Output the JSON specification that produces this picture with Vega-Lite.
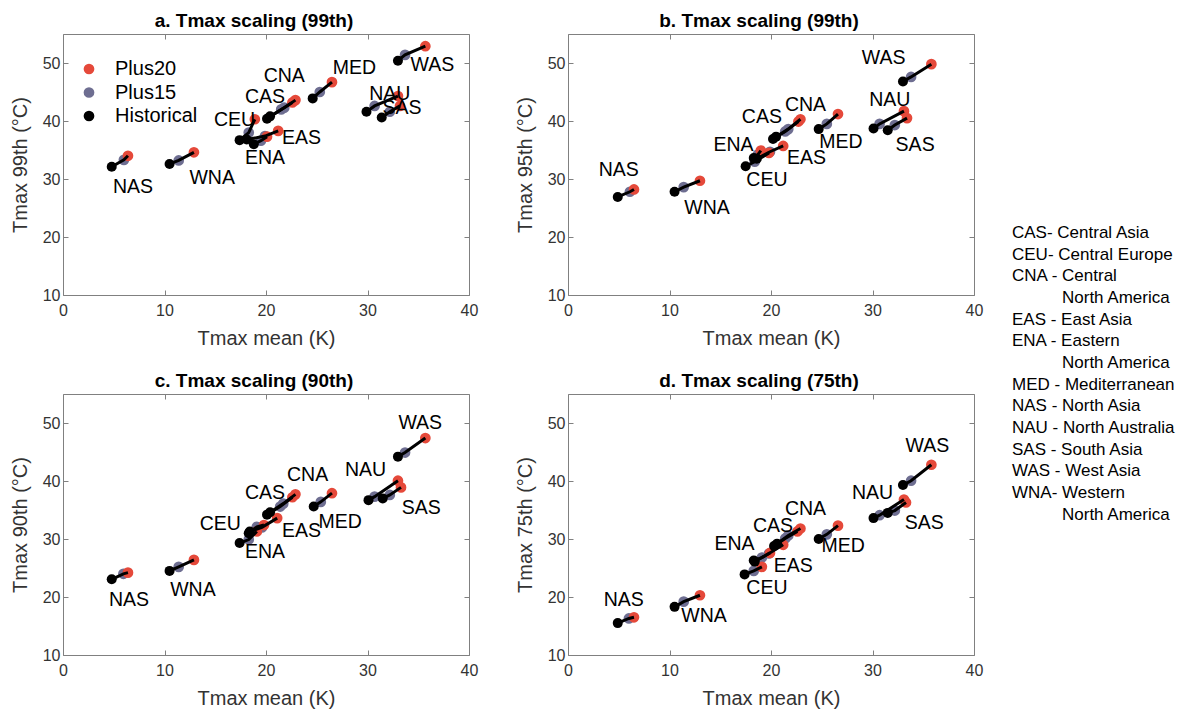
{
"$schema": "https://vega.github.io/schema/vega-lite/v6.json",
"padding": {"left": 9, "top": 11, "right": 0, "bottom": 0},
"background": "white",
"datasets": {
"pts": [
{"panel":"a","region":"NAS","scenario":"Historical","x":4.8,"y":32.1},{"panel":"a","region":"NAS","scenario":"Plus15","x":6.0,"y":33.3},{"panel":"a","region":"NAS","scenario":"Plus20","x":6.4,"y":34.0},
{"panel":"a","region":"WNA","scenario":"Historical","x":10.5,"y":32.6},{"panel":"a","region":"WNA","scenario":"Plus15","x":11.4,"y":33.2},{"panel":"a","region":"WNA","scenario":"Plus20","x":12.9,"y":34.6},
{"panel":"a","region":"CEU","scenario":"Historical","x":17.4,"y":36.7},{"panel":"a","region":"CEU","scenario":"Plus15","x":18.3,"y":38.0},{"panel":"a","region":"CEU","scenario":"Plus20","x":18.9,"y":40.3},
{"panel":"a","region":"ENA","scenario":"Historical","x":18.8,"y":36.0},{"panel":"a","region":"ENA","scenario":"Plus15","x":19.5,"y":36.6},{"panel":"a","region":"ENA","scenario":"Plus20","x":20.1,"y":37.3},
{"panel":"a","region":"EAS","scenario":"Historical","x":18.1,"y":36.8},{"panel":"a","region":"EAS","scenario":"Plus15","x":19.9,"y":37.4},{"panel":"a","region":"EAS","scenario":"Plus20","x":21.2,"y":38.3},
{"panel":"a","region":"CAS","scenario":"Historical","x":20.1,"y":40.4},{"panel":"a","region":"CAS","scenario":"Plus15","x":21.5,"y":42.0},{"panel":"a","region":"CAS","scenario":"Plus20","x":22.6,"y":43.2},
{"panel":"a","region":"CNA","scenario":"Historical","x":20.4,"y":40.8},{"panel":"a","region":"CNA","scenario":"Plus15","x":21.8,"y":42.3},{"panel":"a","region":"CNA","scenario":"Plus20","x":22.9,"y":43.6},
{"panel":"a","region":"MED","scenario":"Historical","x":24.6,"y":43.9},{"panel":"a","region":"MED","scenario":"Plus15","x":25.3,"y":45.0},{"panel":"a","region":"MED","scenario":"Plus20","x":26.5,"y":46.7},
{"panel":"a","region":"NAU","scenario":"Historical","x":29.9,"y":41.6},{"panel":"a","region":"NAU","scenario":"Plus15","x":30.7,"y":42.6},{"panel":"a","region":"NAU","scenario":"Plus20","x":33.0,"y":44.3},
{"panel":"a","region":"SAS","scenario":"Historical","x":31.4,"y":40.6},{"panel":"a","region":"SAS","scenario":"Plus15","x":32.2,"y":41.6},{"panel":"a","region":"SAS","scenario":"Plus20","x":33.2,"y":42.6},
{"panel":"a","region":"WAS","scenario":"Historical","x":33.0,"y":50.4},{"panel":"a","region":"WAS","scenario":"Plus15","x":33.7,"y":51.4},{"panel":"a","region":"WAS","scenario":"Plus20","x":35.7,"y":52.9},

{"panel":"b","region":"NAS","scenario":"Historical","x":4.9,"y":26.9},{"panel":"b","region":"NAS","scenario":"Plus15","x":6.1,"y":27.8},{"panel":"b","region":"NAS","scenario":"Plus20","x":6.5,"y":28.2},
{"panel":"b","region":"WNA","scenario":"Historical","x":10.5,"y":27.8},{"panel":"b","region":"WNA","scenario":"Plus15","x":11.4,"y":28.6},{"panel":"b","region":"WNA","scenario":"Plus20","x":13.0,"y":29.7},
{"panel":"b","region":"CEU","scenario":"Historical","x":17.5,"y":32.2},{"panel":"b","region":"CEU","scenario":"Plus15","x":18.4,"y":33.0},{"panel":"b","region":"CEU","scenario":"Plus20","x":19.8,"y":34.5},
{"panel":"b","region":"ENA","scenario":"Historical","x":18.3,"y":33.6},{"panel":"b","region":"ENA","scenario":"Plus15","x":18.7,"y":34.2},{"panel":"b","region":"ENA","scenario":"Plus20","x":19.0,"y":34.9},
{"panel":"b","region":"EAS","scenario":"Historical","x":18.6,"y":33.5},{"panel":"b","region":"EAS","scenario":"Plus15","x":19.9,"y":34.7},{"panel":"b","region":"EAS","scenario":"Plus20","x":21.2,"y":35.7},
{"panel":"b","region":"CAS","scenario":"Historical","x":20.2,"y":36.9},{"panel":"b","region":"CAS","scenario":"Plus15","x":21.4,"y":38.2},{"panel":"b","region":"CAS","scenario":"Plus20","x":22.7,"y":39.9},
{"panel":"b","region":"CNA","scenario":"Historical","x":20.5,"y":37.3},{"panel":"b","region":"CNA","scenario":"Plus15","x":21.7,"y":38.6},{"panel":"b","region":"CNA","scenario":"Plus20","x":22.9,"y":40.3},
{"panel":"b","region":"MED","scenario":"Historical","x":24.7,"y":38.6},{"panel":"b","region":"MED","scenario":"Plus15","x":25.5,"y":39.5},{"panel":"b","region":"MED","scenario":"Plus20","x":26.6,"y":41.2},
{"panel":"b","region":"NAU","scenario":"Historical","x":30.1,"y":38.7},{"panel":"b","region":"NAU","scenario":"Plus15","x":30.7,"y":39.5},{"panel":"b","region":"NAU","scenario":"Plus20","x":33.1,"y":41.7},
{"panel":"b","region":"SAS","scenario":"Historical","x":31.5,"y":38.4},{"panel":"b","region":"SAS","scenario":"Plus15","x":32.2,"y":39.3},{"panel":"b","region":"SAS","scenario":"Plus20","x":33.4,"y":40.5},
{"panel":"b","region":"WAS","scenario":"Historical","x":33.0,"y":46.8},{"panel":"b","region":"WAS","scenario":"Plus15","x":33.8,"y":47.6},{"panel":"b","region":"WAS","scenario":"Plus20","x":35.8,"y":49.8},

{"panel":"c","region":"NAS","scenario":"Historical","x":4.8,"y":23.05},{"panel":"c","region":"NAS","scenario":"Plus15","x":5.95,"y":24.0},{"panel":"c","region":"NAS","scenario":"Plus20","x":6.4,"y":24.2},
{"panel":"c","region":"WNA","scenario":"Historical","x":10.5,"y":24.5},{"panel":"c","region":"WNA","scenario":"Plus15","x":11.4,"y":25.2},{"panel":"c","region":"WNA","scenario":"Plus20","x":12.9,"y":26.4},
{"panel":"c","region":"ENA","scenario":"Historical","x":17.4,"y":29.3},{"panel":"c","region":"ENA","scenario":"Plus15","x":18.3,"y":29.9},{"panel":"c","region":"ENA","scenario":"Plus20","x":19.1,"y":31.3},
{"panel":"c","region":"CEU","scenario":"Historical","x":18.3,"y":31.0},{"panel":"c","region":"CEU","scenario":"Plus15","x":19.1,"y":32.1},{"panel":"c","region":"CEU","scenario":"Plus20","x":19.8,"y":32.4},
{"panel":"c","region":"EAS","scenario":"Historical","x":18.4,"y":31.3},{"panel":"c","region":"EAS","scenario":"Plus15","x":19.6,"y":32.0},{"panel":"c","region":"EAS","scenario":"Plus20","x":21.1,"y":33.6},
{"panel":"c","region":"CAS","scenario":"Historical","x":20.1,"y":34.2},{"panel":"c","region":"CAS","scenario":"Plus15","x":21.4,"y":35.6},{"panel":"c","region":"CAS","scenario":"Plus20","x":22.6,"y":37.2},
{"panel":"c","region":"CNA","scenario":"Historical","x":20.4,"y":34.6},{"panel":"c","region":"CNA","scenario":"Plus15","x":21.7,"y":36.1},{"panel":"c","region":"CNA","scenario":"Plus20","x":22.9,"y":37.7},
{"panel":"c","region":"MED","scenario":"Historical","x":24.7,"y":35.6},{"panel":"c","region":"MED","scenario":"Plus15","x":25.4,"y":36.4},{"panel":"c","region":"MED","scenario":"Plus20","x":26.5,"y":37.9},
{"panel":"c","region":"NAU","scenario":"Historical","x":30.1,"y":36.7},{"panel":"c","region":"NAU","scenario":"Plus15","x":30.7,"y":37.3},{"panel":"c","region":"NAU","scenario":"Plus20","x":33.0,"y":40.05},
{"panel":"c","region":"SAS","scenario":"Historical","x":31.5,"y":37.0},{"panel":"c","region":"SAS","scenario":"Plus15","x":32.2,"y":37.6},{"panel":"c","region":"SAS","scenario":"Plus20","x":33.3,"y":38.9},
{"panel":"c","region":"WAS","scenario":"Historical","x":33.0,"y":44.2},{"panel":"c","region":"WAS","scenario":"Plus15","x":33.7,"y":44.9},{"panel":"c","region":"WAS","scenario":"Plus20","x":35.7,"y":47.4},

{"panel":"d","region":"NAS","scenario":"Historical","x":4.9,"y":15.5},{"panel":"d","region":"NAS","scenario":"Plus15","x":6.0,"y":16.3},{"panel":"d","region":"NAS","scenario":"Plus20","x":6.5,"y":16.5},
{"panel":"d","region":"WNA","scenario":"Historical","x":10.5,"y":18.3},{"panel":"d","region":"WNA","scenario":"Plus15","x":11.4,"y":19.2},{"panel":"d","region":"WNA","scenario":"Plus20","x":13.0,"y":20.3},
{"panel":"d","region":"CEU","scenario":"Historical","x":17.4,"y":23.9},{"panel":"d","region":"CEU","scenario":"Plus15","x":18.3,"y":24.5},{"panel":"d","region":"CEU","scenario":"Plus20","x":19.1,"y":25.2},
{"panel":"d","region":"ENA","scenario":"Historical","x":18.3,"y":26.3},{"panel":"d","region":"ENA","scenario":"Plus15","x":19.1,"y":26.8},{"panel":"d","region":"ENA","scenario":"Plus20","x":19.9,"y":27.6},
{"panel":"d","region":"EAS","scenario":"Historical","x":18.4,"y":26.1},{"panel":"d","region":"EAS","scenario":"Plus15","x":19.8,"y":27.5},{"panel":"d","region":"EAS","scenario":"Plus20","x":21.2,"y":29.0},
{"panel":"d","region":"CAS","scenario":"Historical","x":20.3,"y":28.8},{"panel":"d","region":"CAS","scenario":"Plus15","x":21.4,"y":30.1},{"panel":"d","region":"CAS","scenario":"Plus20","x":22.6,"y":31.3},
{"panel":"d","region":"CNA","scenario":"Historical","x":20.6,"y":29.2},{"panel":"d","region":"CNA","scenario":"Plus15","x":21.7,"y":30.6},{"panel":"d","region":"CNA","scenario":"Plus20","x":22.9,"y":31.8},
{"panel":"d","region":"MED","scenario":"Historical","x":24.7,"y":30.0},{"panel":"d","region":"MED","scenario":"Plus15","x":25.5,"y":30.8},{"panel":"d","region":"MED","scenario":"Plus20","x":26.6,"y":32.3},
{"panel":"d","region":"NAU","scenario":"Historical","x":30.1,"y":33.6},{"panel":"d","region":"NAU","scenario":"Plus15","x":30.7,"y":34.1},{"panel":"d","region":"NAU","scenario":"Plus20","x":33.1,"y":36.8},
{"panel":"d","region":"SAS","scenario":"Historical","x":31.5,"y":34.5},{"panel":"d","region":"SAS","scenario":"Plus15","x":32.2,"y":34.9},{"panel":"d","region":"SAS","scenario":"Plus20","x":33.3,"y":36.3},
{"panel":"d","region":"WAS","scenario":"Historical","x":33.0,"y":39.3},{"panel":"d","region":"WAS","scenario":"Plus15","x":33.8,"y":40.05},{"panel":"d","region":"WAS","scenario":"Plus20","x":35.8,"y":42.8}
],
"labs": [
{"panel":"a","region":"NAS","x":6.9,"y":28.6},{"panel":"a","region":"WNA","x":14.7,"y":30.2},{"panel":"a","region":"CEU","x":16.9,"y":40.2},{"panel":"a","region":"CAS","x":19.9,"y":44.1},{"panel":"a","region":"CNA","x":21.8,"y":47.8},{"panel":"a","region":"MED","x":28.7,"y":49.1},{"panel":"a","region":"WAS","x":36.4,"y":49.7},{"panel":"a","region":"NAU","x":32.2,"y":44.7},{"panel":"a","region":"SAS","x":33.4,"y":42.2},{"panel":"a","region":"ENA","x":19.9,"y":33.6},{"panel":"a","region":"EAS","x":23.5,"y":37.1},
{"panel":"b","region":"NAS","x":5.0,"y":31.6},{"panel":"b","region":"WNA","x":13.7,"y":25.0},{"panel":"b","region":"ENA","x":16.3,"y":35.9},{"panel":"b","region":"CAS","x":19.1,"y":40.7},{"panel":"b","region":"CNA","x":23.4,"y":42.8},{"panel":"b","region":"CEU","x":19.6,"y":29.8},{"panel":"b","region":"EAS","x":23.5,"y":33.6},{"panel":"b","region":"MED","x":26.9,"y":36.4},{"panel":"b","region":"WAS","x":31.1,"y":50.9},{"panel":"b","region":"NAU","x":31.7,"y":43.6},{"panel":"b","region":"SAS","x":34.2,"y":35.9},
{"panel":"c","region":"NAS","x":6.5,"y":19.5},{"panel":"c","region":"WNA","x":12.8,"y":21.2},{"panel":"c","region":"CEU","x":15.5,"y":32.6},{"panel":"c","region":"ENA","x":19.9,"y":27.8},{"panel":"c","region":"CAS","x":19.9,"y":37.9},{"panel":"c","region":"CNA","x":24.1,"y":41.0},{"panel":"c","region":"EAS","x":23.5,"y":31.4},{"panel":"c","region":"MED","x":27.3,"y":32.9},{"panel":"c","region":"WAS","x":35.2,"y":50.0},{"panel":"c","region":"NAU","x":29.8,"y":41.9},{"panel":"c","region":"SAS","x":35.3,"y":35.3},
{"panel":"d","region":"NAS","x":5.5,"y":19.5},{"panel":"d","region":"WNA","x":13.4,"y":16.7},{"panel":"d","region":"ENA","x":16.4,"y":29.1},{"panel":"d","region":"CEU","x":19.6,"y":21.5},{"panel":"d","region":"EAS","x":22.2,"y":25.3},{"panel":"d","region":"CAS","x":20.2,"y":32.2},{"panel":"d","region":"CNA","x":23.4,"y":35.2},{"panel":"d","region":"MED","x":27.1,"y":28.8},{"panel":"d","region":"WAS","x":35.4,"y":46.0},{"panel":"d","region":"NAU","x":30.0,"y":37.9},{"panel":"d","region":"SAS","x":35.1,"y":32.8}
],
"defs": [
{"i":0,"sub":0,"t":"CAS- Central Asia"},{"i":1,"sub":0,"t":"CEU- Central Europe"},{"i":2,"sub":0,"t":"CNA - Central"},{"i":3,"sub":1,"t":"North America"},{"i":4,"sub":0,"t":"EAS - East Asia"},{"i":5,"sub":0,"t":"ENA - Eastern"},{"i":6,"sub":1,"t":"North America"},{"i":7,"sub":0,"t":"MED - Mediterranean"},{"i":8,"sub":0,"t":"NAS - North Asia"},{"i":9,"sub":0,"t":"NAU - North Australia"},{"i":10,"sub":0,"t":"SAS - South Asia"},{"i":11,"sub":0,"t":"WAS - West Asia"},{"i":12,"sub":0,"t":"WNA- Western"},{"i":13,"sub":1,"t":"North America"}
]
},
"hconcat": [
{
"columns": 2,
"spacing": {"row": 99, "column": 99},
"bounds": "flush",
"resolve": {"scale": {"color": "independent"}, "legend": {"color": "independent"}},
"concat": [
{
"width": 406, "height": 261,
"title": "a. Tmax scaling (99th)",
"resolve": {"axis": {"x": "independent", "y": "independent"}},
"layer": [
{"data": {"name": "pts"}, "transform": [{"filter": "datum.panel==='a' && datum.scenario==='Plus15'"}], "mark": {"type": "circle", "size": 115, "opacity": 1},
 "encoding": {"x": {"field": "x", "type": "quantitative", "scale": {"domain": [0, 40], "nice": false}, "axis": {"values": [0,10,20,30,40], "title": "Tmax mean (K)"}},
 "y": {"field": "y", "type": "quantitative", "scale": {"domain": [10, 55], "nice": false}, "axis": {"values": [10,20,30,40,50], "title": "Tmax 99th (°C)"}},
 "color": {"field": "scenario", "type": "nominal", "scale": {"domain": ["Plus20","Plus15","Historical"], "range": ["#E5493A","#6E6E91","#000000"]}, "legend": {"title": null, "orient": "none", "legendX": 16, "legendY": 25, "symbolType": "circle", "symbolSize": 115, "symbolOpacity": 1, "labelFontSize": 20, "labelOffset": 16, "rowPadding": 3.5, "labelColor": "#000", "padding": 0}}}},
{"data": {"name": "pts"}, "transform": [{"filter": "datum.panel==='a' && datum.scenario==='Plus20'"}], "mark": {"type": "circle", "size": 115, "opacity": 1},
 "encoding": {"x": {"field": "x", "type": "quantitative", "axis": null}, "y": {"field": "y", "type": "quantitative", "axis": null},
 "color": {"field": "scenario", "type": "nominal", "scale": {"domain": ["Plus20","Plus15","Historical"], "range": ["#E5493A","#6E6E91","#000000"]}}}},
{"data": {"name": "pts"}, "transform": [{"filter": "datum.panel==='a'"}], "mark": {"type": "line", "color": "#000", "strokeWidth": 3},
 "encoding": {"x": {"field": "x", "type": "quantitative", "axis": null}, "y": {"field": "y", "type": "quantitative", "axis": null}, "detail": {"field": "region"}, "order": {"field": "x"}}},
{"data": {"name": "pts"}, "transform": [{"filter": "datum.panel==='a' && datum.scenario==='Historical'"}], "mark": {"type": "circle", "size": 100, "opacity": 1},
 "encoding": {"x": {"field": "x", "type": "quantitative", "axis": null}, "y": {"field": "y", "type": "quantitative", "axis": null},
 "color": {"field": "scenario", "type": "nominal", "scale": {"domain": ["Plus20","Plus15","Historical"], "range": ["#E5493A","#6E6E91","#000000"]}}}},
{"data": {"name": "labs"}, "transform": [{"filter": "datum.panel==='a'"}], "mark": {"type": "text", "fontSize": 19.5, "color": "#000"},
 "encoding": {"x": {"field": "x", "type": "quantitative", "axis": {"orient": "top", "labels": false, "title": null, "values": [0,10,20,30,40]}},
 "y": {"field": "y", "type": "quantitative", "axis": {"orient": "right", "labels": false, "title": null, "values": [10,20,30,40,50]}}, "text": {"field": "region"}}}
]
},
{
"width": 406, "height": 261,
"title": "b. Tmax scaling (99th)",
"resolve": {"axis": {"x": "independent", "y": "independent"}},
"layer": [
{"data": {"name": "pts"}, "transform": [{"filter": "datum.panel==='b' && datum.scenario==='Plus15'"}], "mark": {"type": "circle", "size": 115, "opacity": 1},
 "encoding": {"x": {"field": "x", "type": "quantitative", "scale": {"domain": [0, 40], "nice": false}, "axis": {"values": [0,10,20,30,40], "title": "Tmax mean (K)"}},
 "y": {"field": "y", "type": "quantitative", "scale": {"domain": [10, 55], "nice": false}, "axis": {"values": [10,20,30,40,50], "title": "Tmax 95th (°C)"}},
 "color": {"field": "scenario", "type": "nominal", "scale": {"domain": ["Plus20","Plus15","Historical"], "range": ["#E5493A","#6E6E91","#000000"]}, "legend": null}}},
{"data": {"name": "pts"}, "transform": [{"filter": "datum.panel==='b' && datum.scenario==='Plus20'"}], "mark": {"type": "circle", "size": 115, "opacity": 1},
 "encoding": {"x": {"field": "x", "type": "quantitative", "axis": null}, "y": {"field": "y", "type": "quantitative", "axis": null},
 "color": {"field": "scenario", "type": "nominal", "scale": {"domain": ["Plus20","Plus15","Historical"], "range": ["#E5493A","#6E6E91","#000000"]}, "legend": null}}},
{"data": {"name": "pts"}, "transform": [{"filter": "datum.panel==='b'"}], "mark": {"type": "line", "color": "#000", "strokeWidth": 3},
 "encoding": {"x": {"field": "x", "type": "quantitative", "axis": null}, "y": {"field": "y", "type": "quantitative", "axis": null}, "detail": {"field": "region"}, "order": {"field": "x"}}},
{"data": {"name": "pts"}, "transform": [{"filter": "datum.panel==='b' && datum.scenario==='Historical'"}], "mark": {"type": "circle", "size": 100, "opacity": 1},
 "encoding": {"x": {"field": "x", "type": "quantitative", "axis": null}, "y": {"field": "y", "type": "quantitative", "axis": null},
 "color": {"field": "scenario", "type": "nominal", "scale": {"domain": ["Plus20","Plus15","Historical"], "range": ["#E5493A","#6E6E91","#000000"]}, "legend": null}}},
{"data": {"name": "labs"}, "transform": [{"filter": "datum.panel==='b'"}], "mark": {"type": "text", "fontSize": 19.5, "color": "#000"},
 "encoding": {"x": {"field": "x", "type": "quantitative", "axis": {"orient": "top", "labels": false, "title": null, "values": [0,10,20,30,40]}},
 "y": {"field": "y", "type": "quantitative", "axis": {"orient": "right", "labels": false, "title": null, "values": [10,20,30,40,50]}}, "text": {"field": "region"}}}
]
},
{
"width": 406, "height": 261,
"title": "c. Tmax scaling (90th)",
"resolve": {"axis": {"x": "independent", "y": "independent"}},
"layer": [
{"data": {"name": "pts"}, "transform": [{"filter": "datum.panel==='c' && datum.scenario==='Plus15'"}], "mark": {"type": "circle", "size": 115, "opacity": 1},
 "encoding": {"x": {"field": "x", "type": "quantitative", "scale": {"domain": [0, 40], "nice": false}, "axis": {"values": [0,10,20,30,40], "title": "Tmax mean (K)"}},
 "y": {"field": "y", "type": "quantitative", "scale": {"domain": [10, 55], "nice": false}, "axis": {"values": [10,20,30,40,50], "title": "Tmax 90th (°C)"}},
 "color": {"field": "scenario", "type": "nominal", "scale": {"domain": ["Plus20","Plus15","Historical"], "range": ["#E5493A","#6E6E91","#000000"]}, "legend": null}}},
{"data": {"name": "pts"}, "transform": [{"filter": "datum.panel==='c' && datum.scenario==='Plus20'"}], "mark": {"type": "circle", "size": 115, "opacity": 1},
 "encoding": {"x": {"field": "x", "type": "quantitative", "axis": null}, "y": {"field": "y", "type": "quantitative", "axis": null},
 "color": {"field": "scenario", "type": "nominal", "scale": {"domain": ["Plus20","Plus15","Historical"], "range": ["#E5493A","#6E6E91","#000000"]}, "legend": null}}},
{"data": {"name": "pts"}, "transform": [{"filter": "datum.panel==='c'"}], "mark": {"type": "line", "color": "#000", "strokeWidth": 3},
 "encoding": {"x": {"field": "x", "type": "quantitative", "axis": null}, "y": {"field": "y", "type": "quantitative", "axis": null}, "detail": {"field": "region"}, "order": {"field": "x"}}},
{"data": {"name": "pts"}, "transform": [{"filter": "datum.panel==='c' && datum.scenario==='Historical'"}], "mark": {"type": "circle", "size": 100, "opacity": 1},
 "encoding": {"x": {"field": "x", "type": "quantitative", "axis": null}, "y": {"field": "y", "type": "quantitative", "axis": null},
 "color": {"field": "scenario", "type": "nominal", "scale": {"domain": ["Plus20","Plus15","Historical"], "range": ["#E5493A","#6E6E91","#000000"]}, "legend": null}}},
{"data": {"name": "labs"}, "transform": [{"filter": "datum.panel==='c'"}], "mark": {"type": "text", "fontSize": 19.5, "color": "#000"},
 "encoding": {"x": {"field": "x", "type": "quantitative", "axis": {"orient": "top", "labels": false, "title": null, "values": [0,10,20,30,40]}},
 "y": {"field": "y", "type": "quantitative", "axis": {"orient": "right", "labels": false, "title": null, "values": [10,20,30,40,50]}}, "text": {"field": "region"}}}
]
},
{
"width": 406, "height": 261,
"title": "d. Tmax scaling (75th)",
"resolve": {"axis": {"x": "independent", "y": "independent"}},
"layer": [
{"data": {"name": "pts"}, "transform": [{"filter": "datum.panel==='d' && datum.scenario==='Plus15'"}], "mark": {"type": "circle", "size": 115, "opacity": 1},
 "encoding": {"x": {"field": "x", "type": "quantitative", "scale": {"domain": [0, 40], "nice": false}, "axis": {"values": [0,10,20,30,40], "title": "Tmax mean (K)"}},
 "y": {"field": "y", "type": "quantitative", "scale": {"domain": [10, 55], "nice": false}, "axis": {"values": [10,20,30,40,50], "title": "Tmax 75th (°C)"}},
 "color": {"field": "scenario", "type": "nominal", "scale": {"domain": ["Plus20","Plus15","Historical"], "range": ["#E5493A","#6E6E91","#000000"]}, "legend": null}}},
{"data": {"name": "pts"}, "transform": [{"filter": "datum.panel==='d' && datum.scenario==='Plus20'"}], "mark": {"type": "circle", "size": 115, "opacity": 1},
 "encoding": {"x": {"field": "x", "type": "quantitative", "axis": null}, "y": {"field": "y", "type": "quantitative", "axis": null},
 "color": {"field": "scenario", "type": "nominal", "scale": {"domain": ["Plus20","Plus15","Historical"], "range": ["#E5493A","#6E6E91","#000000"]}, "legend": null}}},
{"data": {"name": "pts"}, "transform": [{"filter": "datum.panel==='d'"}], "mark": {"type": "line", "color": "#000", "strokeWidth": 3},
 "encoding": {"x": {"field": "x", "type": "quantitative", "axis": null}, "y": {"field": "y", "type": "quantitative", "axis": null}, "detail": {"field": "region"}, "order": {"field": "x"}}},
{"data": {"name": "pts"}, "transform": [{"filter": "datum.panel==='d' && datum.scenario==='Historical'"}], "mark": {"type": "circle", "size": 100, "opacity": 1},
 "encoding": {"x": {"field": "x", "type": "quantitative", "axis": null}, "y": {"field": "y", "type": "quantitative", "axis": null},
 "color": {"field": "scenario", "type": "nominal", "scale": {"domain": ["Plus20","Plus15","Historical"], "range": ["#E5493A","#6E6E91","#000000"]}, "legend": null}}},
{"data": {"name": "labs"}, "transform": [{"filter": "datum.panel==='d'"}], "mark": {"type": "text", "fontSize": 19.5, "color": "#000"},
 "encoding": {"x": {"field": "x", "type": "quantitative", "axis": {"orient": "top", "labels": false, "title": null, "values": [0,10,20,30,40]}},
 "y": {"field": "y", "type": "quantitative", "axis": {"orient": "right", "labels": false, "title": null, "values": [10,20,30,40,50]}}, "text": {"field": "region"}}}
]
}
]
},
{
"width": 175, "height": 650,
"view": {"stroke": null},
"data": {"name": "defs"},
"layer": [
{"transform": [{"filter": "datum.sub===0"}],
 "mark": {"type": "text", "align": "left", "baseline": "middle", "fontSize": 17, "color": "#000"},
 "encoding": {
 "x": {"datum": 0, "type": "quantitative", "scale": {"domain": [0, 1]}, "axis": null},
 "y": {"field": "i", "type": "quantitative", "scale": {"domain": [20.82, -9.18], "nice": false, "zero": false}, "axis": null},
 "text": {"field": "t"}}},
{"transform": [{"filter": "datum.sub===1"}],
 "mark": {"type": "text", "align": "left", "baseline": "middle", "fontSize": 17, "color": "#000", "dx": 50},
 "encoding": {
 "x": {"datum": 0, "type": "quantitative", "scale": {"domain": [0, 1]}, "axis": null},
 "y": {"field": "i", "type": "quantitative", "scale": {"domain": [20.82, -9.18], "nice": false, "zero": false}, "axis": null},
 "text": {"field": "t"}}}
]
}
],
"spacing": 28,
"config": {
 "font": "Liberation Sans",
 "view": {"stroke": "#808080", "strokeWidth": 1},
 "axis": {"domain": false, "grid": false, "tickColor": "#808080", "tickSize": -5, "labelFontSize": 16, "labelColor": "#333", "titleFontSize": 20, "titleFontWeight": "normal", "titleColor": "#333", "labelFlush": false},
 "axisX": {"labelPadding": 12, "titlePadding": 10},
 "axisY": {"labelPadding": 8, "titlePadding": 12},
 "title": {"fontSize": 19, "fontWeight": "bold", "offset": 3, "color": "#000", "dx": -12}
}
}
